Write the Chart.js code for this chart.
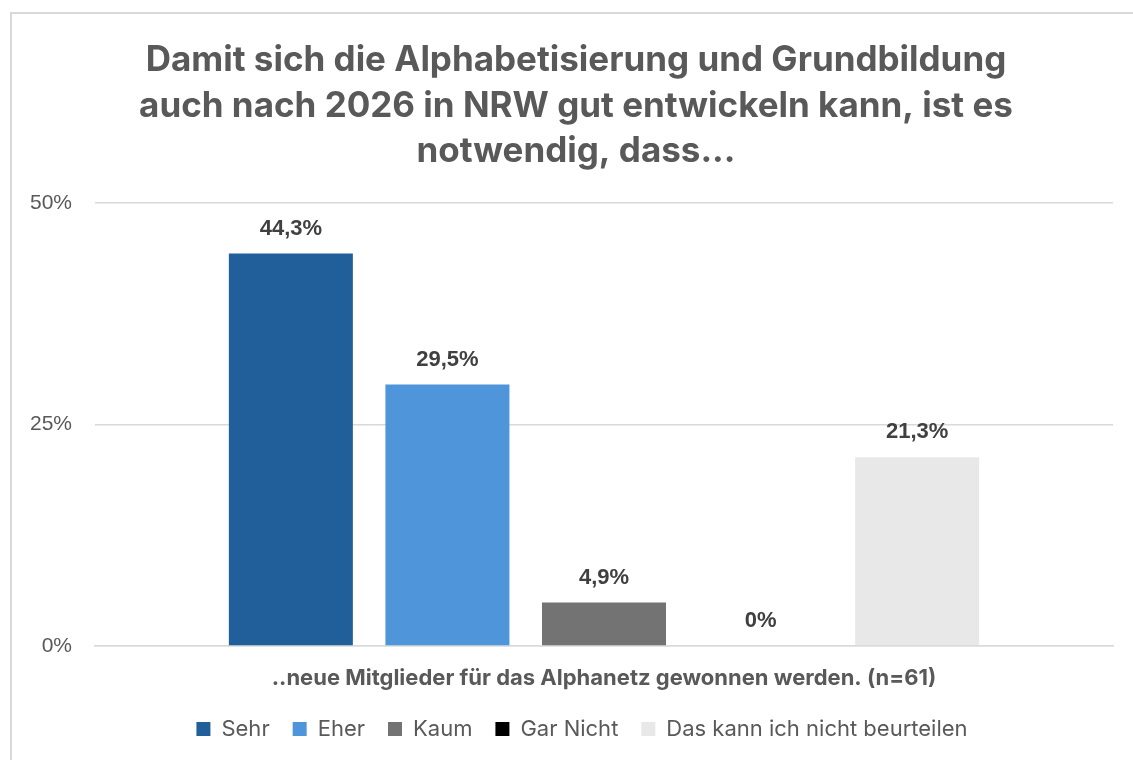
<!DOCTYPE html>
<html>
<head>
<meta charset="utf-8">
<script src="https://cdn.jsdelivr.net/npm/chart.js@4/dist/chart.umd.min.js"></script>
<style>
  html, body { margin: 0; padding: 0; background: #fff; }
  #wrap { position: absolute; left: 0; top: 0; width: 1133px; height: 760px; }
</style>
</head>
<body>
<div id="wrap"><canvas id="myChart"></canvas></div>
<script>
// data
var categories = ["..neue Mitglieder für das Alphanetz gewonnen werden. (n=61)"];
var seriesNames = ["Sehr", "Eher", "Kaum", "Gar Nicht", "Das kann ich nicht beurteilen"];
var seriesValues = [44.3, 29.5, 4.9, 0, 21.3];
var seriesColors = ["#215F9A", "#4E95D9", "#737373", "#000000", "#E8E8E8"];
var yTicks = [0, 25, 50];

var titleLines = [
  "Damit sich die Alphabetisierung und Grundbildung",
  "auch nach 2026 in NRW gut entwickeln kann, ist es",
  "notwendig, dass..."
];

function fmt(v) {
  return String(v).replace(".", ",") + "%";
}

// frame like the office chart border
var framePlugin = {
  id: "frame",
  beforeDraw: function (chart) {
    var ctx = chart.ctx;
    ctx.save();
    ctx.fillStyle = "#fff";
    ctx.fillRect(0, 0, chart.width, chart.height);
    ctx.strokeStyle = "#d9d9d9";
    ctx.lineWidth = 2;
    ctx.beginPath();
    ctx.moveTo(11, chart.height);
    ctx.lineTo(11, 13);
    ctx.lineTo(chart.width, 13);
    ctx.stroke();
    ctx.restore();
  }
};

// title and legend sit a bit right of the canvas centre in the original
var shiftBlocks = {
  id: "shiftBlocks",
  afterLayout: function (chart) {
    if (chart.titleBlock) {
      chart.titleBlock.left += 14;
      chart.titleBlock.right += 14;
    }
    if (chart.legend) {
      chart.legend.left += 20;
      chart.legend.right += 20;
    }
  }
};

// value labels above bars
var valueLabels = {
  id: "valueLabels",
  afterDatasetsDraw: function (chart) {
    var ctx = chart.ctx;
    ctx.save();
    ctx.font = "bold 22px 'Liberation Sans', Arial, sans-serif";
    ctx.fillStyle = "#404040";
    ctx.textAlign = "center";
    ctx.textBaseline = "middle";
    chart.data.datasets.forEach(function (ds, i) {
      var meta = chart.getDatasetMeta(i);
      meta.data.forEach(function (bar, j) {
        ctx.fillText(fmt(ds.data[j]), bar.x, bar.y - 25);
      });
    });
    ctx.restore();
  }
};

var datasets = seriesNames.map(function (name, i) {
  return {
    label: name,
    data: [seriesValues[i]],
    backgroundColor: seriesColors[i],
    borderWidth: 0,
    categoryPercentage: 0.769,
    barPercentage: 0.792
  };
});

var config = {
  type: "bar",
  data: { labels: categories, datasets: datasets },
  plugins: [framePlugin, shiftBlocks, valueLabels],
  options: {
    responsive: true,
    maintainAspectRatio: false,
    animation: false,
    layout: { padding: { left: 11, right: 20, top: 0, bottom: 10 } },
    plugins: {
      title: {
        display: true,
        text: titleLines,
        color: "#595959",
        font: { family: "Inter, 'Noto Sans', sans-serif", size: 35, weight: "bold", lineHeight: 1.314 },
        padding: { top: 37, bottom: 28 }
      },
      legend: {
        display: true,
        position: "bottom",
        labels: {
          boxWidth: 14,
          boxHeight: 14,
          padding: 23,
          color: "#595959",
          font: { family: "Inter, 'Noto Sans', sans-serif", size: 22 }
        }
      },
      tooltip: { enabled: false }
    },
    scales: {
      x: {
        grid: { display: false },
        border: { display: true, color: "#d9d9d9", width: 1.5 },
        afterFit: function (scale) { scale.height = 49; },
        ticks: {
          color: "#595959",
          padding: 11,
          font: { family: "Inter, 'Noto Sans', sans-serif", size: 22, weight: "bold" }
        }
      },
      y: {
        min: 0,
        max: 50,
        afterBuildTicks: function (axis) {
          axis.ticks = yTicks.map(function (v) { return { value: v }; });
        },
        afterFit: function (scale) { scale.width = 84; },
        grid: { color: "#d9d9d9", lineWidth: 1.5, drawTicks: false },
        border: { display: false },
        ticks: {
          color: "#595959",
          padding: 23,
          font: { family: "'Liberation Sans', Arial, sans-serif", size: 21 },
          callback: function (v) { return v + "%"; }
        }
      }
    }
  }
};

var ctx = document.getElementById("myChart").getContext("2d");
var myChart = new Chart(ctx, config);
</script>
</body>
</html>
